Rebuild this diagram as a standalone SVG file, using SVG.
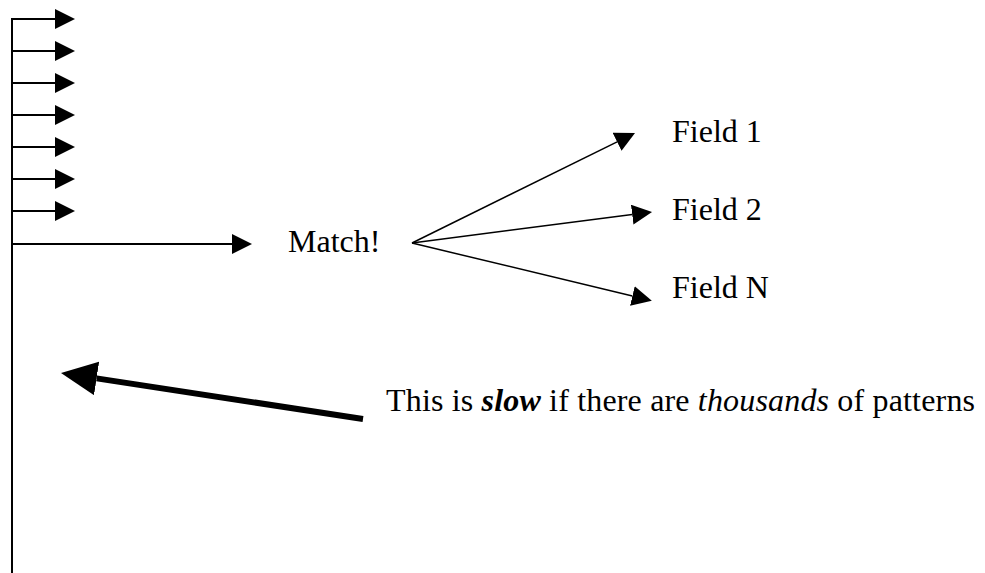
<svg xmlns="http://www.w3.org/2000/svg" width="985" height="573" viewBox="0 0 985 573">
<style>
.ln{stroke:#000;stroke-width:2;fill:none}
.fan{stroke:#000;stroke-width:1.5;fill:none}
.thick{stroke:#000;stroke-width:6;fill:none}
text{font-family:"Liberation Serif","Times New Roman",serif;font-size:32px;fill:#000}
</style>
<defs>
<marker id="ah" viewBox="0 0 20 20" markerWidth="20" markerHeight="20" markerUnits="userSpaceOnUse" refX="0" refY="10" orient="auto"><path d="M0,0 L20,10 L0,20 z" fill="#000"/></marker>
<marker id="big" viewBox="0 0 36 34" markerWidth="36" markerHeight="34" markerUnits="userSpaceOnUse" refX="0" refY="17" orient="auto"><path d="M0,0 L36,17 L0,34 z" fill="#000"/></marker>
</defs>
<g id="connectors">
<path class="ln" d="M12,573 V19 H55" marker-end="url(#ah)"/>
<path class="ln" d="M12,51 H55" marker-end="url(#ah)"/>
<path class="ln" d="M12,83 H55" marker-end="url(#ah)"/>
<path class="ln" d="M12,115 H55" marker-end="url(#ah)"/>
<path class="ln" d="M12,147 H55" marker-end="url(#ah)"/>
<path class="ln" d="M12,179 H55" marker-end="url(#ah)"/>
<path class="ln" d="M12,211 H55" marker-end="url(#ah)"/>
<path class="ln" d="M12,244 H232" marker-end="url(#ah)"/>
<path class="fan" d="M412,243 L617.1,141.8" marker-end="url(#ah)"/>
<path class="fan" d="M412,243 L632.2,214.6" marker-end="url(#ah)"/>
<path class="fan" d="M412,243 L632.4,296" marker-end="url(#ah)"/>
<path class="thick" d="M363,419 L96.6,378.4" marker-end="url(#big)"/>
</g>
<g id="match"><text x="288" y="252">Match!</text></g>
<g id="field1"><text x="672" y="142">Field 1</text></g>
<g id="field2"><text x="672" y="220">Field 2</text></g>
<g id="fieldN"><text x="672" y="298">Field N</text></g>
<g id="note"><text x="386" y="411" textLength="589">This is <tspan font-weight="bold" font-style="italic">slow</tspan> if there are <tspan font-style="italic">thousands</tspan> of patterns</text></g>
</svg>
